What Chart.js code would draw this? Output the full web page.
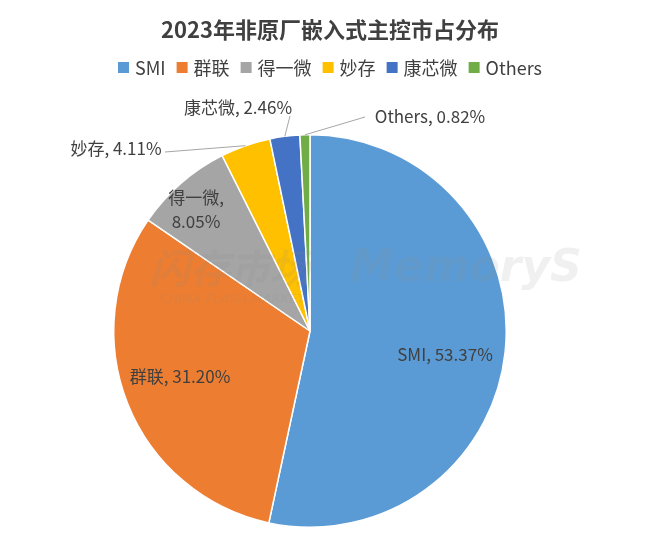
<!DOCTYPE html>
<html>
<head>
<meta charset="utf-8">
<script src="https://cdn.jsdelivr.net/npm/chart.js@4"></script>
<style>
  html, body { margin: 0; padding: 0; background: #fff; }
  #wrap { width: 660px; height: 542px; }
</style>
</head>
<body>
<div id="wrap"><canvas id="c" width="660" height="542"></canvas></div>
<script>
// datos del gráfico
const labels = ["SMI", "群联", "得一微", "妙存", "康芯微", "Others"];
const shares = [53.37, 31.2, 8.05, 4.11, 2.46, 0.82];
const colors = ["#5B9BD5", "#ED7D31", "#A5A5A5", "#FFC000", "#4472C4", "#70AD47"];
const chartTitle = "2023年非原厂嵌入式主控市占分布";

// dónde va cada etiqueta (estilo, no datos)
const labelStyle = [
  { x: 445, y: 355, lines: ["SMI, 53.37%"] },
  { x: 180, y: 377, lines: ["群联, 31.20%"] },
  { x: 196, y: 210, lines: ["得一微,", "8.05%"] },
  { x: 116, y: 149, lines: ["妙存, 4.11%"], lineTo: [165, 152] },
  { x: 238, y: 108, lines: ["康芯微, 2.46%"], lineTo: [290, 116] },
  { x: 430, y: 117, lines: ["Others, 0.82%"], lineTo: [365, 117] },
];

const font = "'Noto Sans CJK SC', 'Noto Sans', sans-serif";

// título, leyenda, marca de agua y etiquetas dibujadas a mano
const labelPlugin = {
  id: "sliceLabels",
  beforeDraw: (chart) => {
    const { ctx } = chart;
    ctx.save();
    ctx.fillStyle = "#404040";
    ctx.font = "bold 22px " + font;
    ctx.textAlign = "center";
    ctx.textBaseline = "middle";
    ctx.fillText(chartTitle, 330, 30);

    // leyenda
    ctx.font = "18px " + font;
    ctx.textAlign = "left";
    const widths = labels.map((l) => 11 + 6 + ctx.measureText(l).width);
    const gap = 11;
    const total = widths.reduce((a, b) => a + b, 0) + gap * (labels.length - 1);
    let x = 330 - total / 2;
    labels.forEach((l, i) => {
      ctx.fillStyle = colors[i];
      ctx.fillRect(x, 62, 11, 11);
      ctx.fillStyle = "#404040";
      ctx.fillText(l, x + 17, 68);
      x += widths[i] + gap;
    });
    ctx.restore();
  },
  afterDatasetsDraw: (chart) => {
    const { ctx } = chart;
    const arcs = chart.getDatasetMeta(0).data;
    ctx.save();
    ctx.fillStyle = "rgba(140,140,140,0.13)";
    ctx.font = "bold italic 40px " + font;
    ctx.textBaseline = "middle";
    ctx.fillText("闪存市场", 150, 268);
    ctx.font = "bold italic 44px 'DejaVu Sans'";
    ctx.fillText("MemoryS", 350, 270);
    ctx.font = "italic 13px 'DejaVu Sans'";
    ctx.fillText("CHINA FLASH MARKET", 160, 300);
    ctx.restore();

    ctx.save();
    ctx.font = "17px " + font;
    ctx.fillStyle = "#404040";
    ctx.textAlign = "center";
    ctx.textBaseline = "middle";
    labelStyle.forEach((s, i) => {
      const arc = arcs[i];
      if (s.lineTo) {
        const mid = (arc.startAngle + arc.endAngle) / 2;
        const ex = arc.x + Math.cos(mid) * arc.outerRadius;
        const ey = arc.y + Math.sin(mid) * arc.outerRadius;
        ctx.strokeStyle = "#a6a6a6";
        ctx.lineWidth = 1;
        ctx.beginPath();
        ctx.moveTo(ex, ey);
        ctx.lineTo(s.lineTo[0], s.lineTo[1]);
        ctx.stroke();
      }
      s.lines.forEach((t, k) => {
        ctx.fillText(t, s.x, s.y + (k - (s.lines.length - 1) / 2) * 24);
      });
    });
    ctx.restore();
  },
};

new Chart(document.getElementById("c").getContext("2d"), {
  type: "pie",
  data: {
    labels: labels,
    datasets: [{
      data: shares,
      backgroundColor: colors,
      borderColor: "#fff",
      borderWidth: 1.5,
    }],
  },
  options: {
    responsive: false,
    animation: false,
    layout: { padding: { left: 113, right: 153, top: 134, bottom: 14 } },
    plugins: {
      title: { display: false },
      legend: { display: false },
      tooltip: { enabled: false },
    },
  },
  plugins: [labelPlugin],
});
</script>
</body>
</html>
